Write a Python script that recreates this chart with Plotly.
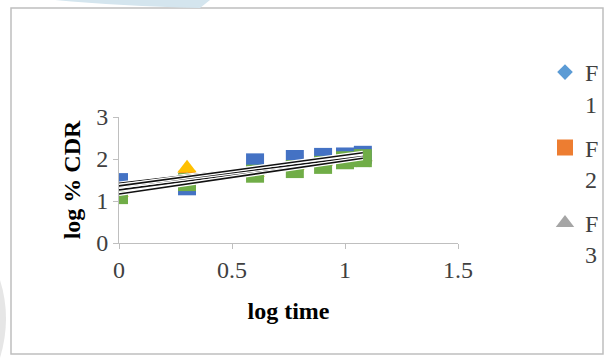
import numpy as np
import plotly.graph_objects as go

log_time = [0, 0.301, 0.602, 0.778, 0.903, 1.0, 1.079]
F1 = [1.45, 1.55, 1.80, 1.92, 2.00, 2.04, 2.08]
F2 = [1.40, 1.52, 1.76, 1.90, 1.98, 2.03, 2.07]
F3 = [1.30, 1.50, 1.72, 1.86, 1.96, 2.02, 2.06]
F7 = [1.25, 1.48, 1.70, 1.84, 1.94, 2.00, 1.98]
F4 = [1.20, 1.78, 1.68, 1.84, 1.94, 2.00, 2.05]
F5 = [1.45, 1.35, 1.92, 2.00, 2.05, 2.06, 2.10]
F6 = [1.14, 1.45, 1.65, 1.76, 1.86, 1.97, 2.02]
values = [F1, F2, F3, F7, F4, F5, F6]
names = ["F1", "F2", "F3", "F7", "F4", "F5", "F6"]
colors = ["#5B9BD5", "#ED7D31", "#A5A5A5", "#E3E9B8", "#FFC000", "#4472C4", "#70AD47"]
symbols = ["diamond", "square", "triangle-up", "x-thin", "triangle-up", "square", "square"]
sizes = [12, 17, 17, 14, 17, 18, 18]

W, H = 604, 358
L, R, T, B = 119, 146, 117, 115

def px(x):
    return (x - L) / (W - L - R)

def py(y):
    return (H - B - y) / (H - T - B)

fig = go.Figure()
serif = "Liberation Serif, Times New Roman, serif"

for i, (name, ys) in enumerate(zip(names, values)):
    fig.add_trace(go.Scatter(
        x=log_time, y=ys, mode="markers", name=name.replace("F", "F<br>"),
        marker=dict(symbol=symbols[i], color=colors[i], size=sizes[i],
                    line=dict(color=colors[i], width=2) if symbols[i] == "x-thin" else dict(width=0)),
        showlegend=i < 3, legendgroup=name,
    ))

fits = []
for ys in values:
    k, b = np.polyfit(log_time, ys, 1)
    fits.append((k, b))
xs = [log_time[0], log_time[-1]]
for k, b in fits:
    fig.add_trace(go.Scatter(x=xs, y=[k * x + b for x in xs], mode="lines",
                             line=dict(color="white", width=4), showlegend=False, hoverinfo="skip"))
    fig.add_trace(go.Scatter(x=xs, y=[k * x + b for x in xs], mode="lines",
                             line=dict(color="#111111", width=1.6), showlegend=False, hoverinfo="skip"))

shapes = [
    dict(type="rect", xref="paper", yref="paper", x0=px(11), x1=px(603), y0=py(354), y1=py(8),
         line=dict(color="#BFBFBF", width=1.5), layer="below"),
    dict(type="path", xref="paper", yref="paper",
         path=f"M {px(55)} {py(0)} L {px(210)} {py(0)} L {px(200)} {py(8)} Q {px(120)} {py(6)} {px(55)} {py(0)} Z",
         fillcolor="#D4E5EE", line=dict(width=0), layer="below"),
    dict(type="path", xref="paper", yref="paper",
         path=f"M {px(0)} {py(280)} Q {px(12)} {py(318)} {px(0)} {py(358)} Z",
         fillcolor="#E6E6E6", line=dict(width=0), layer="below"),
]

fig.update_layout(
    width=W, height=H,
    margin=dict(l=L, r=R, t=T, b=B),
    paper_bgcolor="white", plot_bgcolor="white",
    font=dict(family=serif, size=24, color="#404040"),
    shapes=shapes,
    legend=dict(xref="container", yref="container", x=545 / W, y=1 - 50 / H,
                xanchor="left", yanchor="top", valign="top",
                font=dict(family=serif, size=24, color="#404040"),
                tracegroupgap=10, itemwidth=30, bgcolor="rgba(0,0,0,0)", maxheight=1),
    xaxis=dict(range=[0, 1.5], tickvals=[0, 0.5, 1, 1.5], ticktext=["0", "0.5", "1", "1.5"],
               showgrid=False, zeroline=False, showline=True, linecolor="#BFBFBF", linewidth=1,
               ticks="outside", ticklen=5, tickcolor="#BFBFBF",
               title=dict(text="<b>log time</b>", font=dict(family=serif, size=24, color="black"), standoff=20)),
    yaxis=dict(range=[0, 3], tickvals=[0, 1, 2, 3],
               showgrid=False, zeroline=False, showline=True, linecolor="#BFBFBF", linewidth=1,
               ticks="outside", ticklen=5, tickcolor="#BFBFBF",
               title=dict(text="<b>log % CDR</b>", font=dict(family=serif, size=24, color="black"), standoff=8)),
)

fig.write_html("out.html")
